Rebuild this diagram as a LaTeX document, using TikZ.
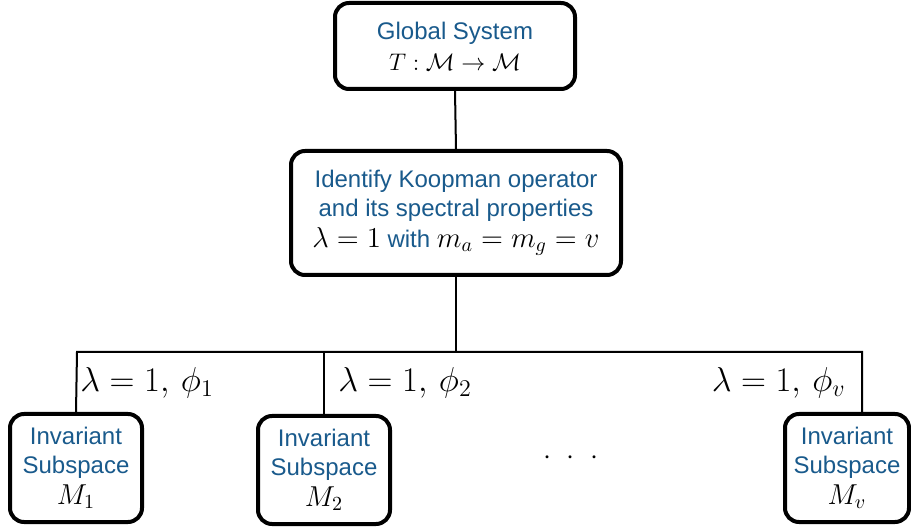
\documentclass[tikz,border=0pt]{standalone}
\usepackage{fontspec}
\newfontfamily\boxfont{Liberation Sans}
\definecolor{boxblue}{RGB}{25,90,140}
\begin{document}
\begin{tikzpicture}[x=0.5pt,y=-0.5pt,
  blk/.style={draw=black, line width=2pt, rounded corners=7pt, fill=white, align=center,
    font=\boxfont\fontsize{12}{14.5}\selectfont, text=boxblue, inner sep=0pt},
  conn/.style={line width=1pt},
  lbl/.style={font=\fontsize{17.28}{19}\selectfont, inner sep=0pt}]
\useasboundingbox (0,0) rectangle (911,529);
\node[blk, minimum width=120pt, minimum height=43pt] (top) at (455,46)
  {Global System\\[1pt] \textcolor{black}{$T:\mathcal{M}\rightarrow\mathcal{M}$}};
\node[blk, minimum width=165pt, minimum height=62pt] (mid) at (456,213)
  {Identify Koopman operator\\ and its spectral properties\\[1pt]
   \textcolor{black}{\fontsize{14.4}{15}\selectfont$\lambda=1$} with \textcolor{black}{\fontsize{14.4}{15}\selectfont$m_a=m_g=v$}};
\node[blk, minimum width=66pt, minimum height=54pt] (b1) at (76,468)
  {Invariant\\ Subspace\\[1pt] \textcolor{black}{\fontsize{14.4}{15}\selectfont$M_1$}};
\node[blk, minimum width=66pt, minimum height=54pt] (b2) at (324,470)
  {Invariant\\ Subspace\\[1pt] \textcolor{black}{\fontsize{14.4}{15}\selectfont$M_2$}};
\node[blk, minimum width=62pt, minimum height=54pt] (bv) at (847,468)
  {Invariant\\ Subspace\\[1pt] \textcolor{black}{\fontsize{14.4}{15}\selectfont$M_v$}};
\coordinate (bar) at (456,352);
\coordinate (bl) at (77,352);
\coordinate (br) at (862,352);
\coordinate (bvt) at (862,413);
\draw[conn] (top.south) -- (mid.north);
\draw[conn] (mid.south) -- (bar);
\draw[conn] (b1.north) -- (bl) -- (br) -- (bvt);
\draw[conn] (b2.north) -- (b2.north |- bar);
\node[lbl, anchor=west] (l1) at (80,383) {$\lambda=1,\,\phi_1$};
\node[lbl, anchor=west] (l2) at (338,383) {$\lambda=1,\,\phi_2$};
\node[lbl, anchor=east] (lv) at (846,383) {$\lambda=1,\,\phi_v$};
\node[font=\fontsize{14.4}{17}\selectfont] (dots) at (571,458) {$\cdot\ \cdot\ \cdot$};
\end{tikzpicture}
\end{document}
